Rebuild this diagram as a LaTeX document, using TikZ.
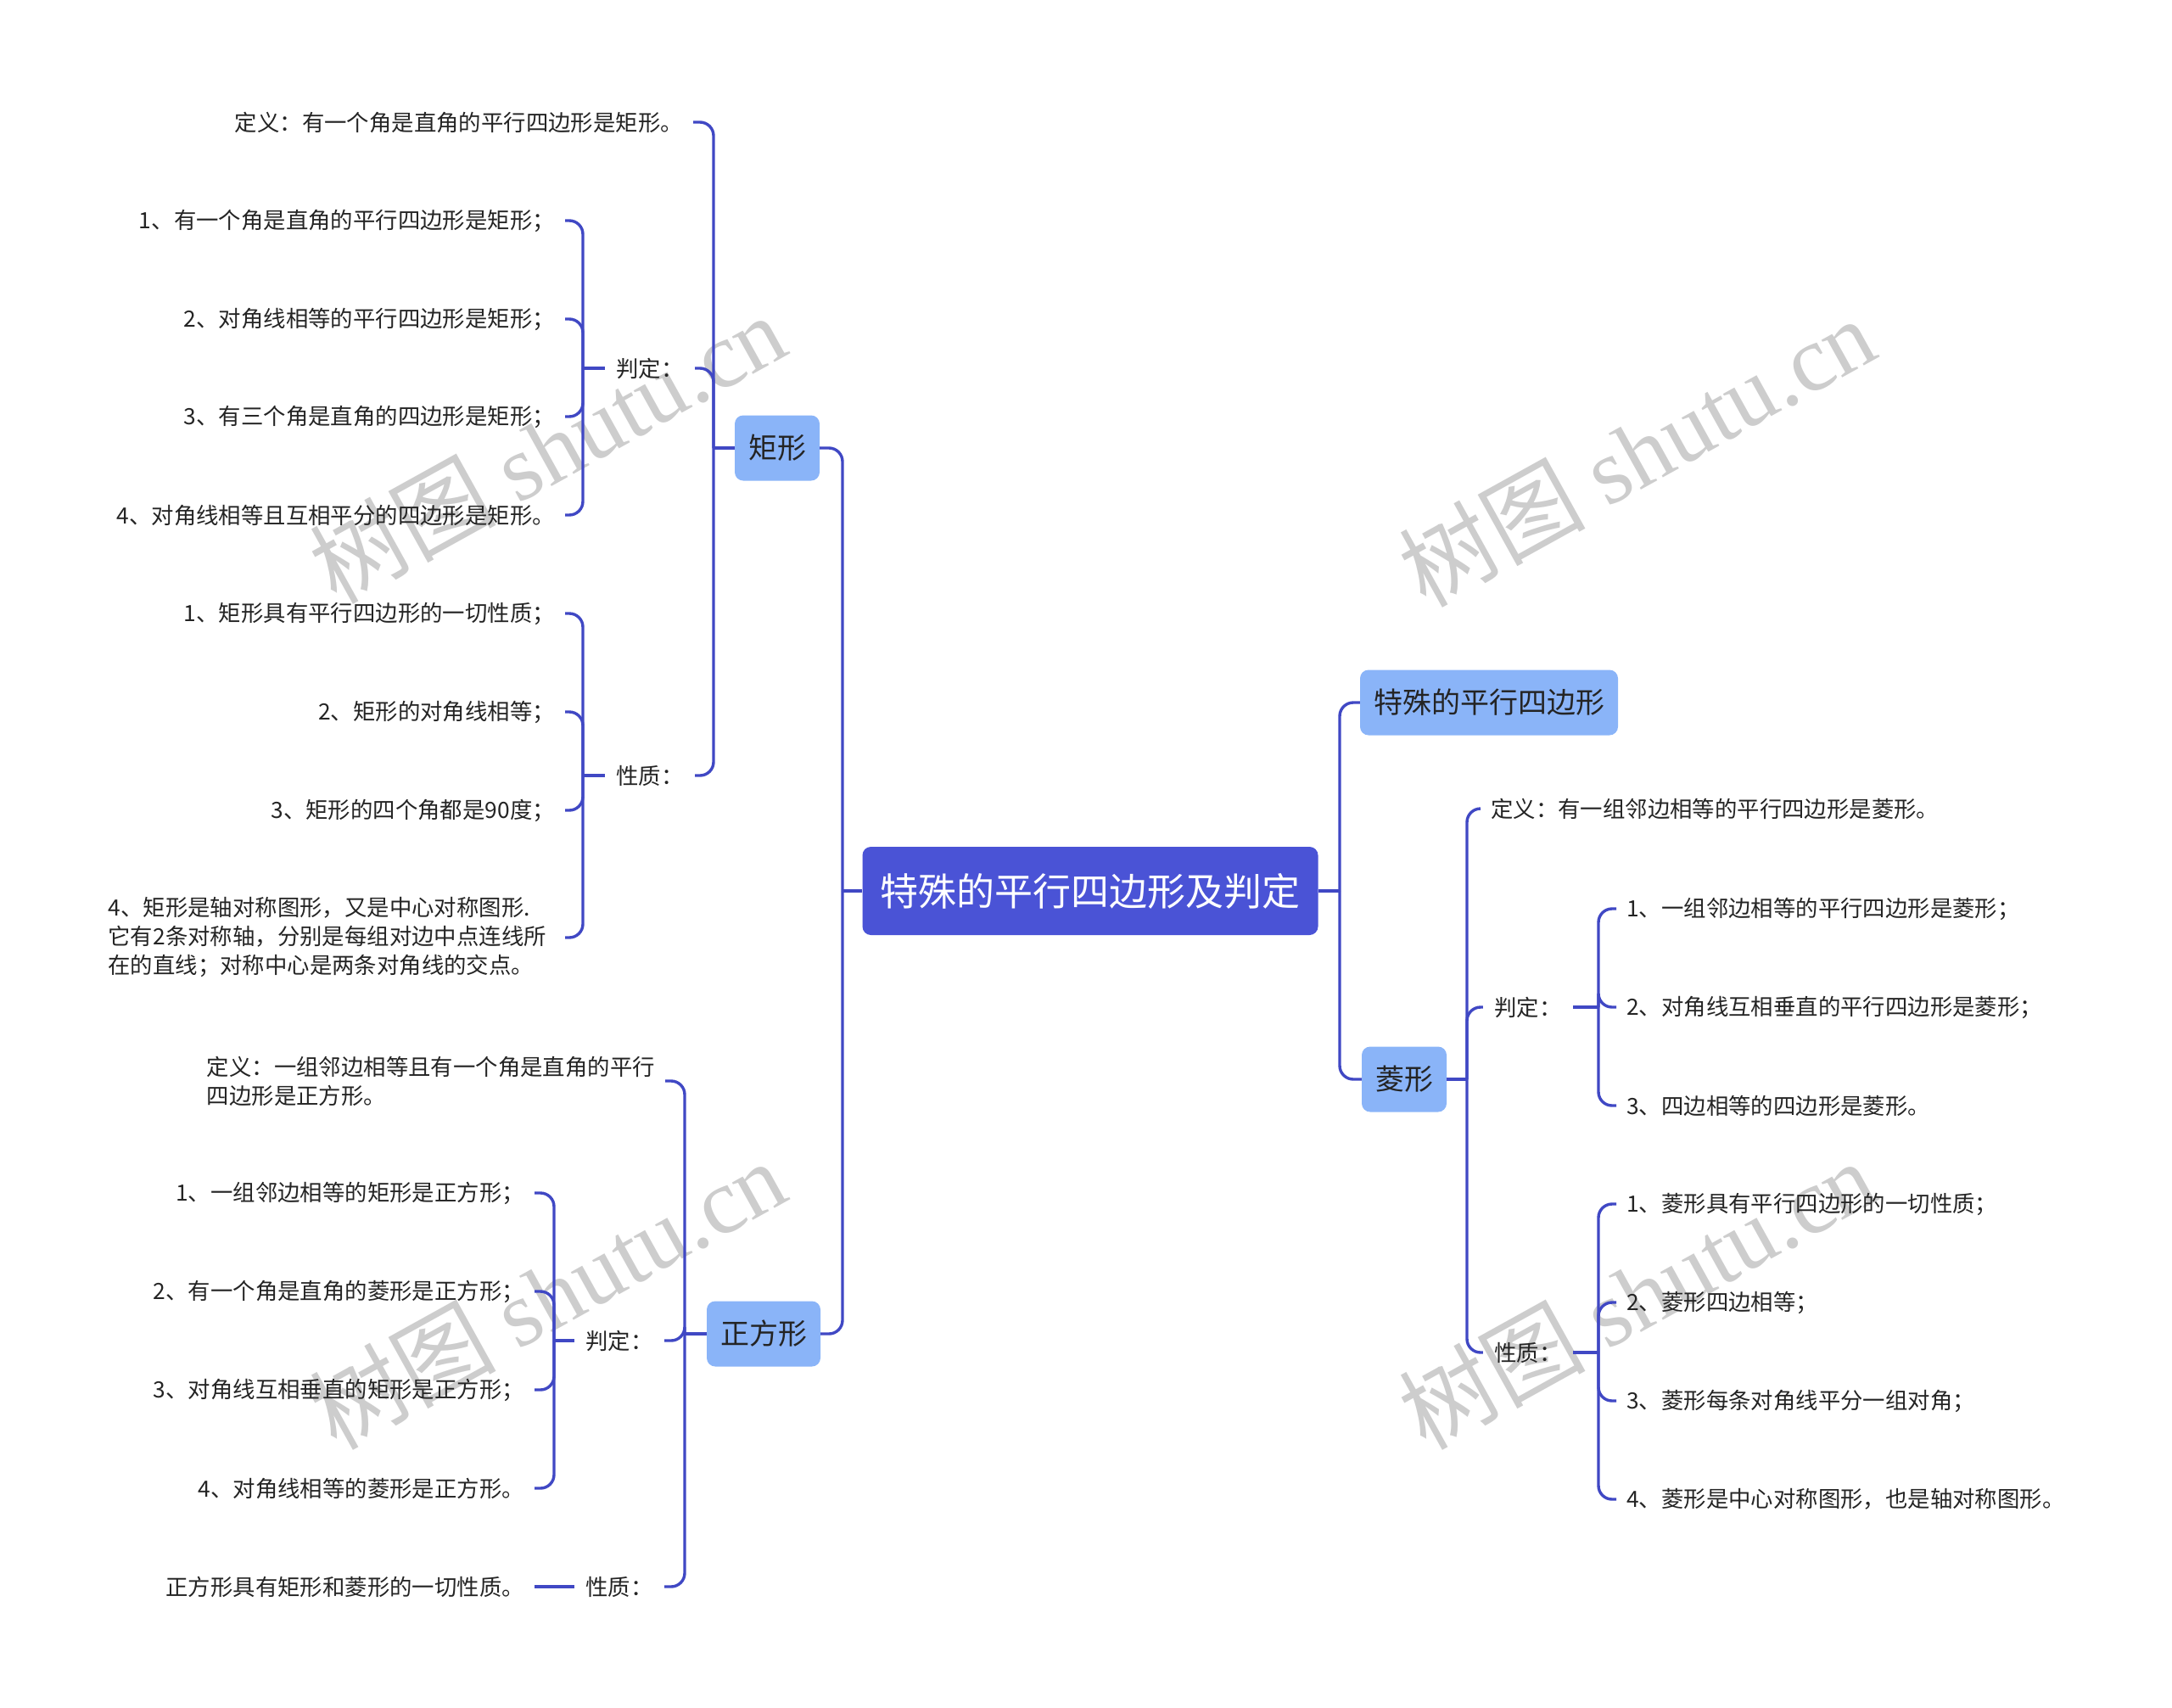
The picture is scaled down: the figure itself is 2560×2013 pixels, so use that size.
\documentclass[tikz,border=0pt]{standalone}
\usepackage{fontspec}
\setmainfont{Noto Sans CJK SC}
\newfontfamily\wmfont{Liberation Serif}
\definecolor{linkblue}{RGB}{64,72,196}
\definecolor{rootblue}{RGB}{74,83,214}
\definecolor{subblue}{RGB}{138,180,248}
\definecolor{inkgray}{RGB}{36,36,36}
\definecolor{markgray}{RGB}{205,205,205}

\begin{document}
\begin{tikzpicture}[x=1pt, y=-1pt,
	link/.style={draw=linkblue, line width=3.4pt, rounded corners=16pt},
	rootbox/.style={fill=rootblue, rounded corners=10pt, text=white, font=\fontsize{45}{54}\selectfont, inner xsep=21pt, minimum height=104pt},
	subbox/.style={fill=subblue, rounded corners=10pt, text=inkgray, font=\fontsize{34}{40}\selectfont, inner xsep=16pt, minimum height=77pt},
	leaf/.style={text=inkgray, font=\fontsize{26.4}{34}\selectfont, inner xsep=12pt, inner ysep=2pt, align=left},
	tag/.style={leaf, minimum width=106pt},
	wm/.style={text=markgray, font=\fontsize{110}{110}\selectfont, rotate=29}]
	\useasboundingbox (0,0) rectangle (2560,2013);
	%\draw [step=100,lightgray, very thin] (0,0) grid (2560,2013);
	% watermarks
	\node[wm] (wm1) at (645,528) {树图 {\wmfont shutu.cn}};
	\node[wm] (wm2) at (1929,532) {树图 {\wmfont shutu.cn}};
	\node[wm] (wm3) at (645,1525) {树图 {\wmfont shutu.cn}};
	\node[wm] (wm4) at (1929,1525) {树图 {\wmfont shutu.cn}};
	
	\node[rootbox] (root) at (1285,1050) {特殊的平行四边形及判定};
	\node[subbox] (rect) at (916,528) {矩形};
	\node[subbox] (square) at (900,1572) {正方形};
	\node[subbox] (special) at (1755,828) {特殊的平行四边形};
	\node[subbox] (rhombus) at (1655,1272) {菱形};
	
	% rectangle
	\node[leaf, anchor=east] (rDef) at (817,144) {定义：有一个角是直角的平行四边形是矩形。};
	\node[tag] (rJud) at (766,434) {判定：};
	\node[tag] (rProp) at (766,914) {性质：};
	\node[leaf, anchor=east] (rJ1) at (666,260) {1、有一个角是直角的平行四边形是矩形；};
	\node[leaf, anchor=east] (rJ2) at (666,376) {2、对角线相等的平行四边形是矩形；};
	\node[leaf, anchor=east] (rJ3) at (666,491) {3、有三个角是直角的四边形是矩形；};
	\node[leaf, anchor=east] (rJ4) at (666,607) {4、对角线相等且互相平分的四边形是矩形。};
	\node[leaf, anchor=east] (rP1) at (666,723) {1、矩形具有平行四边形的一切性质；};
	\node[leaf, anchor=east] (rP2) at (666,839) {2、矩形的对角线相等；};
	\node[leaf, anchor=east] (rP3) at (666,955) {3、矩形的四个角都是90度；};
	\node[leaf, anchor=east, inner xsep=22pt] (rP4) at (666,1105) {4、矩形是轴对称图形，又是中心对称图形.\\它有2条对称轴，分别是每组对边中点连线所\\在的直线；对称中心是两条对角线的交点。};
	
	% square
	\node[leaf, anchor=east] (sDef) at (784,1274) {定义：一组邻边相等且有一个角是直角的平行\\四边形是正方形。};
	\node[tag] (sJud) at (730,1580) {判定：};
	\node[tag] (sProp) at (730,1870) {性质：};
	\node[leaf, anchor=east] (sJ1) at (630,1406) {1、一组邻边相等的矩形是正方形；};
	\node[leaf, anchor=east] (sJ2) at (630,1522) {2、有一个角是直角的菱形是正方形；};
	\node[leaf, anchor=east] (sJ3) at (630,1638) {3、对角线互相垂直的矩形是正方形；};
	\node[leaf, anchor=east] (sJ4) at (630,1754) {4、对角线相等的菱形是正方形。};
	\node[leaf, anchor=east] (sP1) at (630,1870) {正方形具有矩形和菱形的一切性质。};
	
	% rhombus
	\node[leaf, anchor=west] (hDef) at (1745,953) {定义：有一组邻边相等的平行四边形是菱形。};
	\node[tag] (hJud) at (1801,1187) {判定：};
	\node[tag] (hProp) at (1801,1594) {性质：};
	\node[leaf, anchor=west] (hJ1) at (1905,1071) {1、一组邻边相等的平行四边形是菱形；};
	\node[leaf, anchor=west] (hJ2) at (1905,1187) {2、对角线互相垂直的平行四边形是菱形；};
	\node[leaf, anchor=west] (hJ3) at (1905,1303) {3、四边相等的四边形是菱形。};
	\node[leaf, anchor=west] (hP1) at (1905,1419) {1、菱形具有平行四边形的一切性质；};
	\node[leaf, anchor=west] (hP2) at (1905,1535) {2、菱形四边相等；};
	\node[leaf, anchor=west] (hP3) at (1905,1651) {3、菱形每条对角线平分一组对角；};
	\node[leaf, anchor=west] (hP4) at (1905,1767) {4、菱形是中心对称图形，也是轴对称图形。};
	
	% junctions
	\coordinate (cL) at (993,1050);
	\coordinate (cR) at (1579,1050);
	\coordinate (rectJ) at (841,528);
	\coordinate (rJudJ) at (687,434);
	\coordinate (rPropJ) at (687,914);
	\coordinate (sqJ) at (807,1572);
	\coordinate (sJudJ) at (653,1580);
	\coordinate (rhJ) at (1729,1272);
	\coordinate (hJudJ) at (1884,1187);
	\coordinate (hPropJ) at (1884,1594);
	
	\draw[link] (root.west) -- (cL);
	\draw[link] (cL) |- (rect.east);
	\draw[link] (cL) |- (square.east);
	\draw[link] (root.east) -- (cR);
	\draw[link] (cR) |- (special.west);
	\draw[link] (cR) |- (rhombus.west);
	
	\draw[link] (rect.west) -- (rectJ);
	\draw[link] (rectJ) |- (rDef.east);
	\draw[link] (rectJ) |- (rJud.east);
	\draw[link] (rectJ) |- (rProp.east);
	\draw[link] (rJud.west) -- (rJudJ);
	\draw[link] (rJudJ) |- (rJ1.east);
	\draw[link] (rJudJ) |- (rJ2.east);
	\draw[link] (rJudJ) |- (rJ3.east);
	\draw[link] (rJudJ) |- (rJ4.east);
	\draw[link] (rProp.west) -- (rPropJ);
	\draw[link] (rPropJ) |- (rP1.east);
	\draw[link] (rPropJ) |- (rP2.east);
	\draw[link] (rPropJ) |- (rP3.east);
	\draw[link] (rPropJ) |- (rP4.east);
	
	\draw[link] (square.west) -- (sqJ);
	\draw[link] (sqJ) |- (sDef.east);
	\draw[link] (sqJ) |- (sJud.east);
	\draw[link] (sqJ) |- (sProp.east);
	\draw[link] (sJud.west) -- (sJudJ);
	\draw[link] (sJudJ) |- (sJ1.east);
	\draw[link] (sJudJ) |- (sJ2.east);
	\draw[link] (sJudJ) |- (sJ3.east);
	\draw[link] (sJudJ) |- (sJ4.east);
	\draw[link] (sProp.west) -- (sP1.east);
	
	\draw[link] (rhombus.east) -- (rhJ);
	\draw[link] (rhJ) |- (hDef.west);
	\draw[link] (rhJ) |- (hJud.west);
	\draw[link] (rhJ) |- (hProp.west);
	\draw[link] (hJud.east) -- (hJudJ);
	\draw[link] (hJudJ) |- (hJ1.west);
	\draw[link] (hJudJ) |- (hJ2.west);
	\draw[link] (hJudJ) |- (hJ3.west);
	\draw[link] (hProp.east) -- (hPropJ);
	\draw[link] (hPropJ) |- (hP1.west);
	\draw[link] (hPropJ) |- (hP2.west);
	\draw[link] (hPropJ) |- (hP3.west);
	\draw[link] (hPropJ) |- (hP4.west);
\end{tikzpicture}
\end{document}
